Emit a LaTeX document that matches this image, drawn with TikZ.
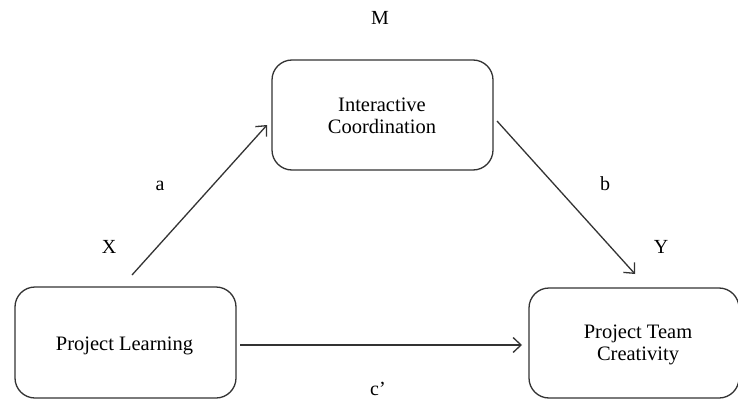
\documentclass[tikz,border=0pt]{standalone}
\usepackage{fontspec}
\setmainfont{Liberation Serif}
\usetikzlibrary{arrows.meta}
\begin{document}
\begin{tikzpicture}[x=1pt,y=-1pt,
  varbox/.style={draw=black!80, line width=1.3pt, rounded corners=20pt, inner sep=0pt},
  txt/.style={font=\fontsize{20.5}{22}\selectfont, inner sep=0pt, anchor=base},
  path/.style={draw=black!80, line width=1.3pt,
    -{Straight Barb[length=8pt,width=15pt,line width=1.3pt]}},
  lbl/.style={font=\fontsize{20}{22}\selectfont, inner sep=0pt, anchor=base}]
  \useasboundingbox (0,0) rectangle (738,401);
  \fill[white] (0,0) rectangle (738,401);

  % variable boxes
  \node[varbox, minimum width=221pt, minimum height=110pt] (M) at (382.5,115) {};
  \node[varbox, minimum width=221pt, minimum height=111pt] (X) at (125.5,342.5) {};
  \node[varbox, minimum width=210pt, minimum height=110pt] (Y) at (634,343) {};

  % box texts
  \node[txt] (M1) at (382,112) {Interactive};
  \node[txt] (M2) at (382,133) {Coordination};
  \node[txt] (X1) at (124.5,350) {Project Learning};
  \node[txt] (Y1) at (638,338) {Project Team};
  \node[txt] (Y2) at (638,360) {Creativity};

  % path endpoints
  \coordinate (aS) at (132,275);
  \coordinate (aE) at (267,125);
  \coordinate (bS) at (497,121);
  \coordinate (bE) at (635,274);
  \coordinate (cS) at (240,345);
  \coordinate (cE) at (522,345);

  \draw[path] (aS) -- (aE);
  \draw[path] (bS) -- (bE);
  \draw[path] (cS) -- (cE);

  % labels
  \node[lbl] (lM) at (380,25) {M};
  \node[lbl] (lX) at (109,253) {X};
  \node[lbl] (lY) at (661,253) {Y};
  \node[lbl] (la) at (160,190) {a};
  \node[lbl] (lb) at (605,190) {b};
  \node[lbl] (lc) at (378,395) {c’};
\end{tikzpicture}
\end{document}
